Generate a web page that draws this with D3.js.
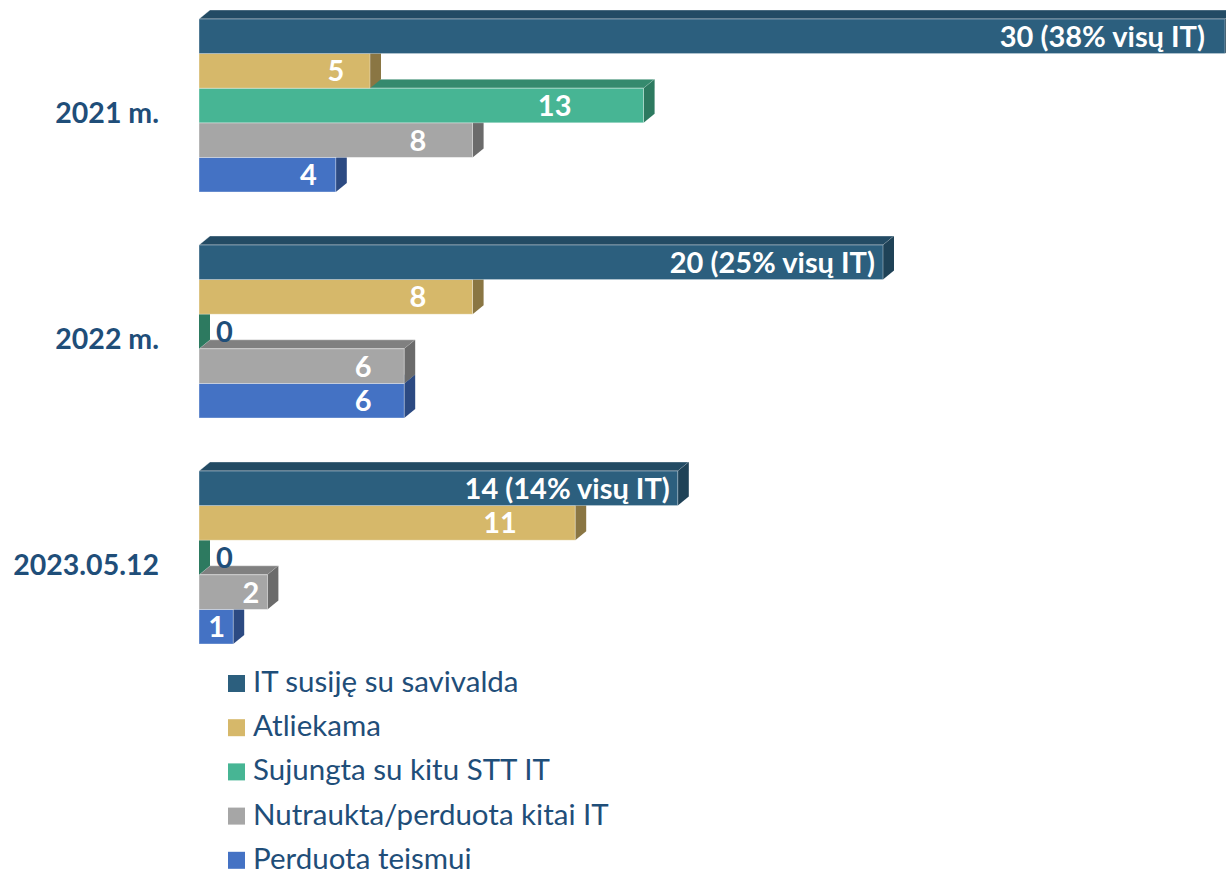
<!DOCTYPE html>
<meta charset="utf-8">
<style>
body { margin: 0; background: #fff; }
svg { display: block; font-family: Lato, "Open Sans", sans-serif; }
.cat-axis text { font-family: Lato, sans-serif; font-size: 28.5px; font-weight: bold; fill: #1F4E79; }
.val { font-size: 29px; font-weight: bold; fill: #fff; }
.val.zero { fill: #1F4E79; }
.legend text { font-size: 29.5px; fill: #1F4E79; }
</style>
<body>
<script src="https://cdn.jsdelivr.net/npm/d3@7"></script>
<script>

// categories (years) and series
var categories = ["2021 m.", "2022 m.", "2023.05.12"];
var seriesNames = ["IT susiję su savivalda", "Atliekama", "Sujungta su kitu STT IT",
                   "Nutraukta/perduota kitai IT", "Perduota teismui"];

// values per series, one per category
var itSusije  = [30, 20, 14];
var atliekama = [5, 8, 11];
var sujungta  = [13, 0, 0];
var nutraukta = [8, 6, 2];
var teismui   = [4, 6, 1];
var shareOfAll = ["38%", "25%", "14%"];   // share of all IT, shown on first series

var seriesValues = [itSusije, atliekama, sujungta, nutraukta, teismui];

// colours: front / top / side of each 3D bar
var frontCol = ["#2C5F7E", "#D6B86A", "#47B594", "#A6A6A6", "#4472C4"];
var topCol   = ["#234B64", "#A8904F", "#358A6E", "#808080", "#34589A"];
var sideCol  = ["#1F4257", "#8A7643", "#2D7A60", "#6B6B6B", "#2C4A82"];

var W = 1226, H = 874;
var depthX = 11, depthY = 9;

var svg = d3.select("body").append("svg")
    .attr("width", W)
    .attr("height", H);

// scales
var x = d3.scaleLinear().domain([0, 30]).range([199, 1225]);
var y0 = d3.scaleBand().domain(categories).range([19, 644])
    .paddingInner(53 / 226).paddingOuter(0);
var y1 = d3.scaleBand().domain(seriesNames).range([0, y0.bandwidth()]);

// flatten into bar records
var bars = [];
categories.forEach(function(c, ci) {
  seriesNames.forEach(function(s, si) {
    bars.push({cat: c, ci: ci, series: s, si: si, value: seriesValues[si][ci]});
  });
});
// lower bars first, so that bar above hides the top face of the one below
bars.sort(function(a, b) { return b.si - a.si; });

var g = svg.append("g").attr("class", "bars");

bars.forEach(function(d) {
  var x0 = x(0), x1 = x(d.value);
  var yt = y0(d.cat) + y1(d.series), yb = yt + y1.bandwidth();
  var bar = g.append("g");

  // top face
  bar.append("path")
      .attr("d", "M" + x0 + "," + yt + "L" + (x0 + depthX) + "," + (yt - depthY) +
                 "L" + (x1 + depthX) + "," + (yt - depthY) + "L" + x1 + "," + yt + "Z")
      .attr("fill", topCol[d.si])
      .attr("stroke", "rgba(255,255,255,0.45)")
      .attr("stroke-width", 0.8);
  // side face
  bar.append("path")
      .attr("d", "M" + x1 + "," + yt + "L" + (x1 + depthX) + "," + (yt - depthY) +
                 "L" + (x1 + depthX) + "," + (yb - depthY) + "L" + x1 + "," + yb + "Z")
      .attr("fill", sideCol[d.si]);
  // front face
  bar.append("rect")
      .attr("x", x0)
      .attr("y", yt)
      .attr("width", x1 - x0)
      .attr("height", yb - yt)
      .attr("fill", frontCol[d.si])
      .attr("stroke", "rgba(255,255,255,0.45)")
      .attr("stroke-width", 0.8);
});

// value labels
var labels = svg.append("g");
bars.forEach(function(d) {
  var x0 = x(0), x1 = x(d.value);
  var yc = y0(d.cat) + y1(d.series) + y1.bandwidth() / 2;
  var t = labels.append("text")
      .attr("class", "val" + (d.value === 0 ? " zero" : ""))
      .attr("y", yc)
      .attr("dy", "0.36em");
  if (d.value === 0) {
    t.attr("x", x0 + depthX + 6).text(d.value);
  } else if (d.si === 0) {
    t.attr("x", Math.min(x1 - 8, W - 21)).attr("text-anchor", "end")
      .text(d.value + " (" + shareOfAll[d.ci] + " visų IT)");
  } else {
    t.text(d.value).attr("text-anchor", "middle");
    var w = t.node().getComputedTextLength();
    var cx = Math.min(x0 + 0.8 * (x1 - x0), x1 - 8 - w / 2);
    t.attr("x", cx);
  }
});

// category axis
var yAxis = d3.axisLeft(y0).tickSize(0).tickPadding(0);
var ax = svg.append("g")
    .attr("class", "cat-axis")
    .attr("transform", "translate(159,0)")
    .call(yAxis)
    .attr("font-family", null)
    .attr("font-size", null);
ax.select(".domain").remove();
ax.selectAll("text")
    .attr("dy", null)
    .attr("y", 17);

// legend
var legend = svg.append("g").attr("class", "legend");
seriesNames.forEach(function(s, i) {
  var base = 692 + i * 44.2;
  legend.append("rect")
      .attr("x", 228)
      .attr("y", base - 17)
      .attr("width", 17)
      .attr("height", 17)
      .attr("fill", frontCol[i]);
  legend.append("text")
      .attr("x", 253)
      .attr("y", base)
      .text(s);
});

</script>
</body>
